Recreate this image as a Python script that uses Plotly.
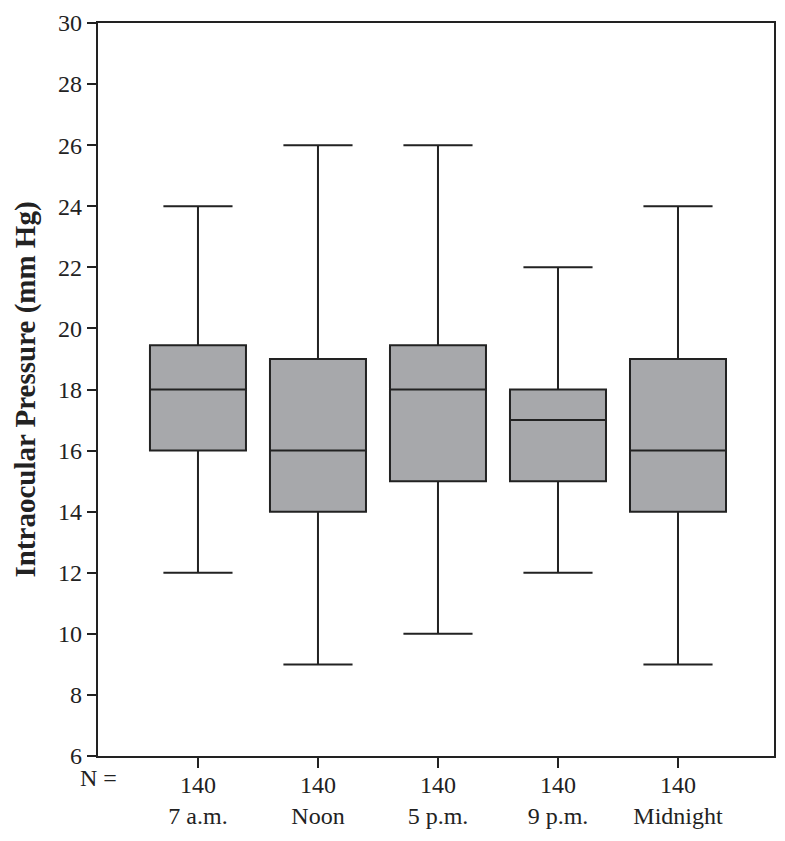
import plotly.graph_objects as go

categories = ["7 a.m.", "Noon", "5 p.m.", "9 p.m.", "Midnight"]
n_counts = [140, 140, 140, 140, 140]
lower_whisker = [12, 9, 10, 12, 9]
q1_vals = [16, 14, 15, 15, 14]
median_vals = [18, 16, 18, 17, 16]
q3_vals = [19.45, 19, 19.45, 18, 19]
upper_whisker = [24, 26, 26, 22, 24]
y_ticks = [6, 8, 10, 12, 14, 16, 18, 20, 22, 24, 26, 28, 30]

xpos = list(range(len(categories)))
tick_text = [f"{n}<br>{c}" for n, c in zip(n_counts, categories)]

FONT = "Liberation Serif"
INK = "#222222"

fig = go.Figure()
fig.add_trace(go.Box(
    x=xpos,
    q1=q1_vals,
    median=median_vals,
    q3=q3_vals,
    lowerfence=lower_whisker,
    upperfence=upper_whisker,
    width=0.8,
    whiskerwidth=0.72,
    fillcolor="#a7a8ab",
    line=dict(color=INK, width=2),
    boxpoints=False,
    hoverinfo="skip",
    showlegend=False,
))

# page body has an 8px default margin, so figure coords = page coords - 8
fig.update_layout(
    template="none",
    width=769, height=825,
    margin=dict(l=90, r=3, t=15, b=77, autoexpand=False),
    plot_bgcolor="white",
    paper_bgcolor="white",
    font=dict(family=FONT, size=24, color=INK),
    annotations=[dict(
        text="N =", x=0, xref="paper", xanchor="center",
        y=0, yref="paper", yanchor="middle", yshift=-22,
        showarrow=False, font=dict(family=FONT, size=24, color=INK),
    )],
)
fig.update_xaxes(
    range=[-0.833, 4.8],
    tickmode="array", tickvals=xpos, ticktext=tick_text,
    ticks="outside", ticklen=10, tickwidth=2, tickcolor=INK,
    ticklabelstandoff=-4,
    showline=True, linecolor=INK, linewidth=2.2, mirror=True,
    showgrid=False, zeroline=False, automargin=False,
    tickfont=dict(family=FONT, size=24, color=INK),
)
fig.update_yaxes(
    range=[6, 30],
    tickmode="array", tickvals=y_ticks,
    ticks="outside", ticklen=9, tickwidth=2, tickcolor=INK,
    showline=True, linecolor=INK, linewidth=2.2, mirror=True,
    showgrid=False, zeroline=False, automargin=False,
    tickfont=dict(family=FONT, size=24, color=INK),
    title=dict(text="<b>Intraocular Pressure (mm Hg)</b>", standoff=14,
               font=dict(family=FONT, size=29, color=INK)),
)

fig.write_html("out.html")
